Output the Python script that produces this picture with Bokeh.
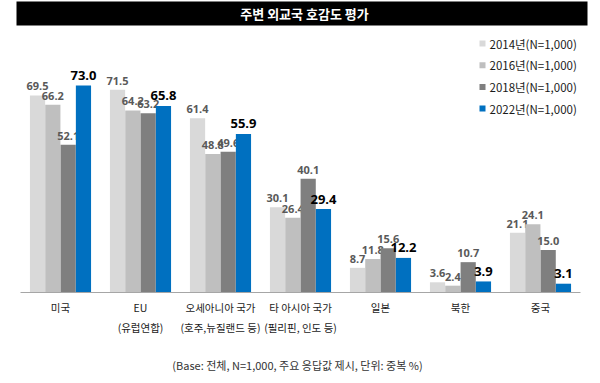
from bokeh.plotting import figure
from bokeh.models import FactorRange, Range1d, ColumnDataSource
from bokeh.transform import dodge
from bokeh.core.properties import value
from bokeh.embed import file_html
from bokeh.resources import INLINE

# ---------------- data ----------------
categories = ["미국", "EU\n(유럽연합)", "오세아니아 국가\n(호주,뉴질랜드 등)",
              "타 아시아 국가\n(필리핀, 인도 등)", "일본", "북한", "중국"]
years = ["2014년(N=1,000)", "2016년(N=1,000)", "2018년(N=1,000)", "2022년(N=1,000)"]
v2014 = [69.5, 71.5, 61.4, 30.1, 8.7, 3.6, 21.1]
v2016 = [66.2, 64.2, 48.8, 26.4, 11.8, 2.4, 24.1]
v2018 = [52.1, 63.2, 49.6, 40.1, 15.6, 10.7, 15.0]
v2022 = [73.0, 65.8, 55.9, 29.4, 12.2, 3.9, 3.1]
title_text = "주변 외교국 호감도 평가"
note_text = "(Base: 전체, N=1,000, 주요 응답값 제시, 단위: 중복 %)"

# ---------------- layout constants ----------------
W, H = 600, 383
LEFT_PX, UNIT_PX = 20, 80.0        # category band start and width (px)
BASE_PX, Y_SCALE = 292, 2.836       # baseline (px from top) and px per %

def dx(px):
    return (px - LEFT_PX) / UNIT_PX

def dy(py):
    return (BASE_PX - py) / Y_SCALE

colors = ["#D9D9D9", "#BFBFBF", "#7F7F7F", "#0070C0"]
offsets = [-0.287, -0.096, 0.096, 0.287]
bar_w = 0.19

src = ColumnDataSource(dict(
    cat=categories,
    v0=v2014, v1=v2016, v2=v2018, v3=v2022,
    t0=["%.1f" % v for v in v2014],
    t1=["%.1f" % v for v in v2016],
    t2=["%.1f" % v for v in v2018],
    t3=["%.1f" % v for v in v2022],
))

xr = FactorRange(factors=categories, range_padding=LEFT_PX / UNIT_PX,
                 range_padding_units="absolute")
yr = Range1d(dy(H), dy(0))

p = figure(width=W, height=H, x_range=xr, y_range=yr,
           output_backend="svg", toolbar_location=None,
           x_axis_location=None, y_axis_location=None,
           min_border=0)
p.grid.visible = False
p.outline_line_color = None
p.background_fill_color = "white"
p.border_fill_color = "white"

# title bar
p.quad(left=dx(16), right=dx(587), top=dy(1), bottom=dy(25),
       fill_color="black", line_color=None)
p.text(x=[dx(304)], y=[dy(13)], text=[title_text], text_color="white",
       text_font=value("Noto Sans CJK KR"), text_font_style="bold",
       text_font_size="13px", text_align="center", text_baseline="middle")

# bars + labels (series order so later bars overlap earlier labels)
for i in range(4):
    xs = dodge("cat", offsets[i], range=p.x_range)
    p.vbar(x=xs, top="v%d" % i, width=bar_w, source=src,
           fill_color=colors[i], line_color=None)
    if i < 3:
        p.text(x=xs, y="v%d" % i, text="t%d" % i, source=src,
               text_color="#595959", text_font=value("Open Sans"),
               text_font_style="bold", text_font_size="11px",
               text_align="center", text_baseline="alphabetic", y_offset=-9)
    else:
        p.text(x=xs, y="v%d" % i, text="t%d" % i, source=src,
               text_color="black", text_font=value("Open Sans"),
               text_font_style="bold", text_font_size="13px",
               text_align="center", text_baseline="alphabetic", y_offset=-10)

# baseline
p.segment(x0=[dx(20)], x1=[dx(580)], y0=[0], y1=[0],
          line_color="#A6A6A6", line_width=1)

# category labels
p.text(x="cat", y=dy(299.5), text="cat", source=src,
       text_color="#1a1a1a", text_font=value("Noto Sans CJK KR"),
       text_font_size="10.5px", text_align="center", text_baseline="top",
       text_line_height=1.3)

# legend
ly = [dy(43 + i * 21.7) for i in range(4)]
p.scatter(x=[dx(482)] * 4, y=ly, marker="square", size=6,
          fill_color=colors, line_color=None)
p.text(x=[dx(489)] * 4, y=ly, text=years, text_color="#1a1a1a",
       text_font=value("Noto Sans CJK KR"), text_font_size="11.5px",
       text_align="left", text_baseline="middle")

# footnote
p.text(x=[dx(297)], y=[dy(364)], text=[note_text], text_color="#333333",
       text_font=value("Noto Sans CJK KR"), text_font_size="11px",
       text_align="center", text_baseline="middle")

open("out.html", "w").write(file_html(p, INLINE))
